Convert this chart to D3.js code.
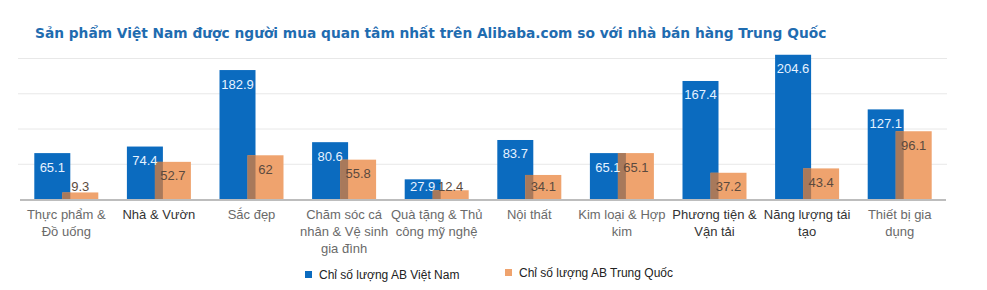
<!DOCTYPE html>
<html lang="vi">
<head>
<meta charset="utf-8">
<script src="https://cdnjs.cloudflare.com/ajax/libs/d3/7.8.5/d3.min.js"></script>
<style>
  body { margin: 0; background: #fff; }
  svg { display: block; }
  .cat { font-family: "Liberation Sans", Arial, sans-serif; font-size: 13px; fill: #6a6a6a; }
  .cat.dark { fill: #333; }
  .val { font-family: "Liberation Sans", Arial, sans-serif; font-size: 13px; }
  .leg { font-family: "Liberation Sans", Arial, sans-serif; font-size: 12px; fill: #222; }
</style>
</head>
<body>
<svg id="chart" width="987" height="290"></svg>
<script>
// data
var categories = [
  ["Thực phẩm &", "Đồ uống"],
  ["Nhà & Vườn"],
  ["Sắc đẹp"],
  ["Chăm sóc cá", "nhân & Vệ sinh", "gia đình"],
  ["Quà tặng & Thủ", "công mỹ nghệ"],
  ["Nội thất"],
  ["Kim loại & Hợp", "kim"],
  ["Phương tiện &", "Vận tải"],
  ["Năng lượng tái", "tạo"],
  ["Thiết bị gia", "dụng"]
];
var darkLabels = [1, 7, 8];
var vietnam = [65.1, 74.4, 182.9, 80.6, 27.9, 83.7, 65.1, 167.4, 204.6, 127.1];
var china   = [9.3, 52.7, 62, 55.8, 12.4, 34.1, 65.1, 37.2, 43.4, 96.1];
var gridTicks = [50, 100, 150, 200];
var seriesNames = ["Chỉ số lượng AB Việt Nam", "Chỉ số lượng AB Trung Quốc"];

var blue = "#0b6bbf", orange = "#efa36e", overlap = "#a8795b";

var svg = d3.select("#chart");
var x = d3.scaleBand().domain(d3.range(categories.length)).range([20, 946]);
var y = d3.scaleLinear().domain([0, 200]).range([199, 58]);
var barW = 36, blueOff = -32, orangeOff = -4;

// title
var title = svg.append("text")
  .attr("x", 35).attr("y", 38)
  .style("font-family", "'DejaVu Sans', Verdana, sans-serif")
  .style("font-weight", "bold")
  .style("font-size", "15px")
  .style("fill", "#1f6cb0")
  .text("Sản phẩm Việt Nam được người mua quan tâm nhất trên Alibaba.com so với nhà bán hàng Trung Quốc");
var tw = title.node().getComputedTextLength();
title.style("font-size", (15 * 792 / tw).toFixed(2) + "px");

// grid
svg.selectAll(".grid").data(gridTicks).enter().append("line")
  .attr("x1", 18).attr("x2", 947)
  .attr("y1", function (d) { return y(d) + 0.5; })
  .attr("y2", function (d) { return y(d) + 0.5; })
  .attr("stroke", "#e8e8e8").attr("stroke-width", 1);

function cx(i) { return x(i) + x.bandwidth() / 2; }

// bars
svg.selectAll(".bv").data(vietnam).enter().append("rect")
  .attr("x", function (d, i) { return cx(i) + blueOff; })
  .attr("y", function (d) { return y(d); })
  .attr("width", barW)
  .attr("height", function (d) { return y(0) - y(d); })
  .attr("fill", blue);

svg.selectAll(".bc").data(china).enter().append("rect")
  .attr("x", function (d, i) { return cx(i) + orangeOff; })
  .attr("y", function (d) { return y(d); })
  .attr("width", barW)
  .attr("height", function (d) { return y(0) - y(d); })
  .attr("fill", orange);

// darker strip where the orange bar sits over the blue one
svg.selectAll(".ov").data(china).enter().append("rect")
  .attr("x", function (d, i) { return cx(i) + orangeOff; })
  .attr("y", function (d, i) { return y(Math.min(d, vietnam[i])); })
  .attr("width", blueOff + barW - orangeOff)
  .attr("height", function (d, i) { return y(0) - y(Math.min(d, vietnam[i])); })
  .attr("fill", overlap);

// baseline
svg.append("line")
  .attr("x1", 20).attr("x2", 946)
  .attr("y1", y(0) + 1).attr("y2", y(0) + 1)
  .attr("stroke", "#bdbdbd").attr("stroke-width", 2);

// value labels
function labelY(v) { return Math.min(y(v) + 14, y(0) - 12.5); }
svg.selectAll(".lv").data(vietnam).enter().append("text")
  .attr("class", "val")
  .attr("x", function (d, i) { return cx(i) + blueOff + barW / 2; })
  .attr("y", function (d) { return labelY(d); })
  .attr("text-anchor", "middle").attr("dominant-baseline", "central")
  .style("fill", "#e6f2ff")
  .text(function (d) { return d; });
svg.selectAll(".lc").data(china).enter().append("text")
  .attr("class", "val")
  .attr("x", function (d, i) { return cx(i) + orangeOff + barW / 2; })
  .attr("y", function (d) { return labelY(d); })
  .attr("text-anchor", "middle").attr("dominant-baseline", "central")
  .style("fill", "#5b4a3e")
  .text(function (d) { return d; });

// category labels
categories.forEach(function (lines, i) {
  var t = svg.append("text")
    .attr("class", darkLabels.indexOf(i) >= 0 ? "cat dark" : "cat")
    .attr("text-anchor", "middle");
  lines.forEach(function (s, k) {
    t.append("tspan").attr("x", cx(i)).attr("y", 219 + k * 17).text(s);
  });
});

// legend
var legX = [305, 505], legY = [275, 273];
seriesNames.forEach(function (name, k) {
  svg.append("rect").attr("x", legX[k]).attr("y", legY[k] - 4)
    .attr("width", 7).attr("height", 7)
    .attr("fill", k === 0 ? blue : orange);
  svg.append("text").attr("class", "leg")
    .attr("x", legX[k] + 14).attr("y", legY[k] + 4)
    .text(name);
});
</script>
</body>
</html>
